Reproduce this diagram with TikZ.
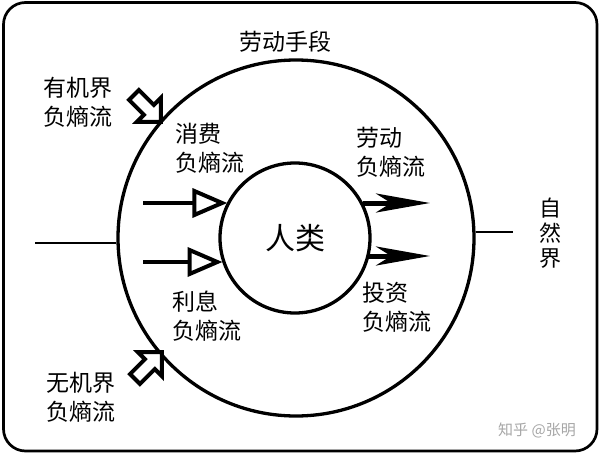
\documentclass[tikz,border=0pt]{standalone}
\usepackage{fontspec}
\setmainfont{Noto Sans CJK SC}
\usetikzlibrary{arrows.meta}
\begin{document}
\begin{tikzpicture}[x=1pt,y=-1pt,
  lbl/.style={font=\fontsize{23}{29}\selectfont, inner sep=0pt, align=left},
  ring/.style={draw, line width=3.3pt, circle, inner sep=0pt},
  axis/.style={line width=2.5pt},
  inarrow/.style={line width=4pt, -{Triangle[open,length=35pt,width=29pt]}},
  outarrow/.style={line width=5pt, -{Stealth[length=54pt,width=19pt,inset=15pt]}},
  blockarr/.pic={\draw[line width=4pt, line join=miter, fill=white]
     (0,-7) -- (21,-7) -- (21,-17) -- (38,0) -- (21,17) -- (21,7) -- (0,7) -- cycle;}]
\useasboundingbox (0,0) rectangle (600,455);
\draw[line width=2.7pt, rounded corners=22pt] (3.5,2.5) rectangle (597,451);
% circles
\node[ring, minimum size=356pt] (outer) at (296,238) {};
\node[ring, minimum size=150pt] (inner) at (295,238) {\fontsize{30}{30}\selectfont 人类};
% horizontal lines
\coordinate (lend) at (35,243);
\coordinate (rend) at (513,232);
\draw[axis] (lend) -- (lend -| outer.west);
\draw[axis] (rend -| outer.east) -- (rend);
% input arrows
\coordinate (in1) at (143,203);
\coordinate (in2) at (143,262);
\draw[inarrow] (in1) -- (in1 -| inner.152);
\draw[inarrow] (in2) -- (in2 -| inner.199);
% output arrows
\coordinate (out1) at (430,203);
\coordinate (out2) at (430,256);
\draw[outarrow] (out1 -| inner.28) -- (out1);
\draw[outarrow] (out2 -| inner.-14) -- (out2);
% block arrows
\pic[rotate=-45] at (134,95) {blockarr};
\pic[rotate=45] at (135,379) {blockarr};
% labels
\node[lbl] (top) at (285,42) {劳动手段};
\node[lbl] (org) at (78,102) {有机界\\负熵流};
\node[lbl, anchor=west] (cons) at (175,148) {消费\\负熵流};
\node[lbl, anchor=west] (lab) at (356,152) {劳动\\负熵流};
\node[lbl, anchor=west] (int) at (172,316) {利息\\负熵流};
\node[lbl, anchor=west] (inv) at (362,307) {投资\\负熵流};
\node[lbl] (inorg) at (81,397) {无机界\\负熵流};
\node[lbl, align=center, font=\fontsize{22}{25}\selectfont] (nat) at (550,233) {自\\然\\界};
\node[font=\fontsize{15}{15}\selectfont, text=black!35, inner sep=0pt] (wm) at (537,430) {知乎 @张明};
\end{tikzpicture}
\end{document}
